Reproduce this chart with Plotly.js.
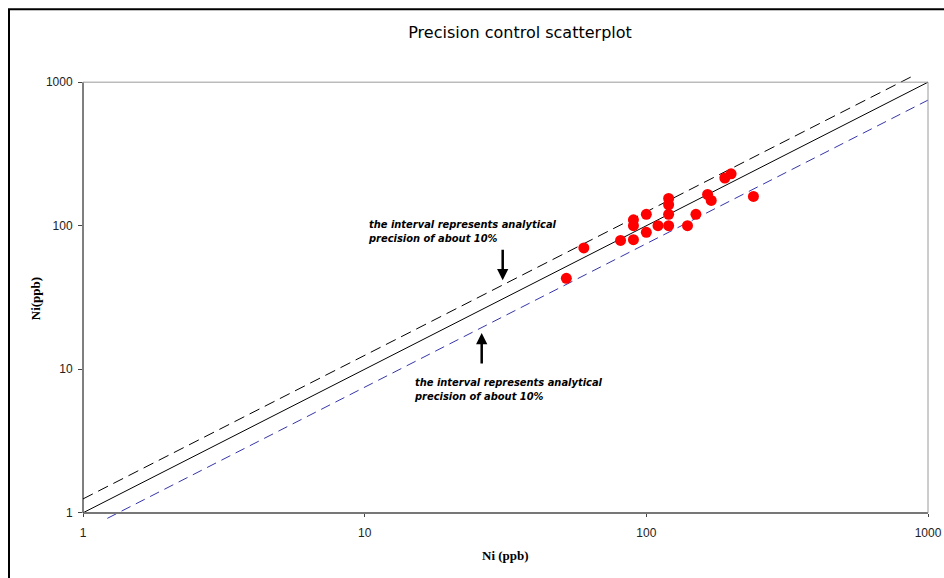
<!DOCTYPE html>
<html>
<head>
<meta charset="utf-8">
<script src="https://cdn.plot.ly/plotly-3.0.1.min.js"></script>
<style>html,body{margin:0;padding:0;background:#fff;}#chart{width:944px;height:578px;}</style>
</head>
<body>
<div id="chart"></div>
<script>
// ---- data ----
const niX = [52, 60, 81, 90, 90, 90, 100, 100, 110, 120, 120, 120, 120, 140, 150, 165, 170, 190, 200, 240];
const niY = [43, 70, 79, 110, 100, 80, 120, 90, 100, 155, 140, 120, 100, 100, 120, 165, 150, 215, 230, 160];
const identityX = [1, 1000];
const upperX = [1, 1000];
const lowerX = [1.22, 1000];
const upperFactor = 1.25;
const lowerFactor = 0.75;
const tickVals = [1, 10, 100, 1000];
const tickText = ['1', '10', '100', '1000'];
const noteText = 'the interval represents analytical<br>precision of about 10%';

// ---- layout geometry ----
const L = 83, R = 928, T = 74.825, B = 519.675;
const W = R - L, H = B - T;
const xRange = [0, 3];
const yRange = [-0.05, 3.05];
const pxX = p => (p - L) / W;
const pxY = p => (B - p) / H;
const fracY = v => (Math.log10(v) - yRange[0]) / (yRange[1] - yRange[0]);

const traces = [
  {x: identityX, y: identityX.map(v => v), mode: 'lines', line: {color: '#000', width: 1}, hoverinfo: 'skip'},
  {x: upperX, y: upperX.map(v => v * upperFactor), mode: 'lines', line: {color: '#000', width: 1, dash: '11px,6px'}, hoverinfo: 'skip'},
  {x: lowerX, y: lowerX.map(v => v * lowerFactor), mode: 'lines', line: {color: '#3535a8', width: 1, dash: '10px,6px'}, hoverinfo: 'skip'},
  {x: niX, y: niY, mode: 'markers', marker: {color: '#ff0000', size: 11, line: {width: 0}}}
];

const tickFont = {family: 'Liberation Sans', size: 12, color: '#222'};
const noteFont = {family: 'DejaVu Sans Condensed, DejaVu Sans, sans-serif', size: 11, color: '#000', weight: 'bold', style: 'italic'};
const axisTitleFont = {family: 'Liberation Serif', size: 13, color: '#000', weight: 'bold'};

const layout = {
  width: 944, height: 578,
  margin: {l: L, r: 944 - R, t: T, b: 578 - B, pad: 0},
  paper_bgcolor: '#fff', plot_bgcolor: '#fff',
  showlegend: false,
  title: {text: 'Precision control scatterplot', x: 520 / 944, xanchor: 'center', y: 1 - 32.7 / 578, yanchor: 'middle',
          font: {family: 'DejaVu Sans, sans-serif', size: 16, color: '#000'}},
  xaxis: {type: 'log', range: xRange, showgrid: false, zeroline: false,
          anchor: 'free', position: fracY(1),
          showline: true, linecolor: '#777', linewidth: 2,
          tickvals: tickVals, ticktext: tickText, ticks: 'outside', ticklen: 3, tickcolor: '#444',
          ticklabelstandoff: 6, tickfont: tickFont},
  yaxis: {type: 'log', range: yRange, showgrid: false, zeroline: false, showline: false,
          tickvals: tickVals, ticktext: tickText, ticks: 'outside', ticklen: 4, tickcolor: '#444',
          ticklabelstandoff: 3, tickfont: tickFont},
  shapes: [
    {type: 'rect', xref: 'paper', yref: 'paper', x0: pxX(9), y0: pxY(9), x1: pxX(980), y1: pxY(620), line: {color: '#000', width: 2}},
    {type: 'line', xref: 'paper', yref: 'paper', x0: 0, x1: 0, y0: fracY(1), y1: fracY(1000), line: {color: '#000', width: 1}},
    {type: 'line', xref: 'paper', yref: 'paper', x0: 0, x1: 1, y0: fracY(1000), y1: fracY(1000), line: {color: '#9a9a9a', width: 1}},
    {type: 'line', xref: 'paper', yref: 'paper', x0: 1, x1: 1, y0: fracY(1), y1: fracY(1000), line: {color: '#9a9a9a', width: 1}}
  ],
  annotations: [
    {xref: 'paper', yref: 'paper', x: pxX(366), y: pxY(231.3), xanchor: 'left', yanchor: 'middle', align: 'left',
     text: noteText, showarrow: false, font: noteFont},
    {xref: 'paper', yref: 'paper', x: pxX(412), y: pxY(388.9), xanchor: 'left', yanchor: 'middle', align: 'left',
     text: noteText, showarrow: false, font: noteFont},
    {xref: 'paper', yref: 'paper', x: pxX(502.7), y: pxY(280), text: '', showarrow: true, ax: 0, ay: -32,
     arrowhead: 2, arrowsize: 0.9, arrowwidth: 2.5, arrowcolor: '#000', standoff: 0},
    {xref: 'paper', yref: 'paper', x: pxX(481.7), y: pxY(332.7), text: '', showarrow: true, ax: 0, ay: 32,
     arrowhead: 2, arrowsize: 0.9, arrowwidth: 2.5, arrowcolor: '#000', standoff: 0},
    {xref: 'paper', yref: 'paper', x: pxX(35), y: pxY(299), text: 'Ni(ppb)', textangle: -90, showarrow: false,
     xanchor: 'center', yanchor: 'middle', font: axisTitleFont},
    {xref: 'paper', yref: 'paper', x: pxX(505), y: pxY(555), text: 'Ni (ppb)', showarrow: false,
     xanchor: 'center', yanchor: 'middle', font: axisTitleFont}
  ]
};

Plotly.newPlot('chart', traces, layout, {displayModeBar: false, staticPlot: true});
</script>
</body>
</html>
